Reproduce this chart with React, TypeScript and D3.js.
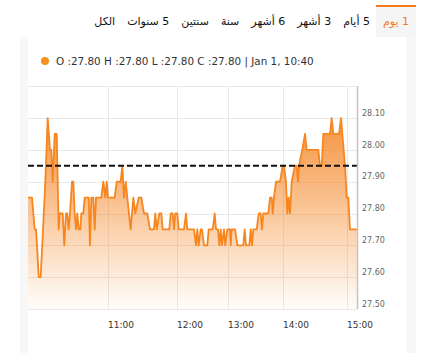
import React, { useEffect, useRef } from 'react';
import * as d3 from 'd3';

const tabLabels = ['1 يوم', '5 أيام', '3 أشهر', '6 أشهر', 'سنة', 'سنتين', '5 سنوات', 'الكل'];
const activeTab = 0;

// ordinal step positions (trading-step index) and prices
const steps = [
  0, 4, 6.7, 8, 9, 10.7, 12.7, 17.3, 19.7, 22, 23.3, 24.7, 26.7, 28.7, 30.7, 31.7, 34.7, 36.3, 38, 39.3,
  40.7, 42, 44, 45.3, 46.7, 48, 49.3, 50.7, 52.3, 53.3, 55.3, 56.7, 60.7, 62, 63.3, 65.3, 66.7, 68, 73.3, 75.3,
  77.3, 78.7, 80, 86.7, 88.7, 92.7, 94.3, 96, 97.7, 99.3, 102.7, 105.3, 107.3, 110.7, 113.3, 116, 119.3, 122, 126, 127.3,
  128.7, 131.3, 133.3, 134.7, 141.3, 142.7, 144.7, 146, 147.3, 149.3, 150.7, 156, 158, 159.3, 166, 168, 169.3, 170.7, 172.7, 174,
  176, 179.3, 180.7, 184.7, 186.7, 188, 190, 191.3, 192.7, 194, 196, 197.3, 199.3, 202, 202.7, 203.7, 207, 209.3, 215.3, 216.7,
  218, 221.3, 222.7, 224, 225.3, 228.7, 230.7, 232.7, 234, 235.3, 240.3, 242, 243.7, 244.7, 246, 248, 252, 254.7, 256, 258,
  259.3, 260.7, 262, 263.7, 267, 268.7, 270, 271, 274.3, 277, 278.7, 290.3, 292, 293.7, 295.3, 302, 303.7, 305.3, 311, 313,
  314.3, 317, 318.7, 320.3, 322, 329,
];
const prices = [
  27.85, 27.85, 27.75, 27.75, 27.70, 27.60, 27.60, 27.90, 28.10, 28.00, 28.00, 27.90, 28.05, 28.05, 27.75, 27.80, 27.80, 27.70, 27.80, 27.80,
  27.75, 27.80, 27.90, 27.90, 27.80, 27.75, 27.80, 27.75, 27.75, 27.80, 27.80, 27.85, 27.85, 27.70, 27.85, 27.85, 27.75, 27.85, 27.85, 27.90,
  27.85, 27.90, 27.85, 27.85, 27.90, 27.90, 27.95, 27.85, 27.90, 27.85, 27.75, 27.85, 27.80, 27.85, 27.85, 27.80, 27.80, 27.75, 27.75, 27.80,
  27.75, 27.80, 27.80, 27.75, 27.75, 27.80, 27.80, 27.75, 27.80, 27.80, 27.75, 27.75, 27.80, 27.75, 27.75, 27.70, 27.75, 27.70, 27.75, 27.75,
  27.70, 27.70, 27.75, 27.75, 27.80, 27.75, 27.75, 27.70, 27.75, 27.70, 27.75, 27.70, 27.75, 27.75, 27.70, 27.75, 27.75, 27.70, 27.70, 27.75,
  27.70, 27.70, 27.75, 27.70, 27.75, 27.75, 27.80, 27.80, 27.75, 27.80, 27.80, 27.85, 27.85, 27.80, 27.85, 27.90, 27.90, 27.95, 27.95, 27.90,
  27.80, 27.85, 27.80, 27.90, 27.95, 27.95, 27.90, 27.95, 28.00, 28.05, 28.00, 28.00, 27.95, 27.95, 28.05, 28.05, 28.10, 28.05, 28.05, 28.10,
  28.05, 27.95, 27.85, 27.85, 27.75, 27.75,
];
const prevClose = 27.95;
const yTickValues = [27.5, 27.6, 27.7, 27.8, 27.9, 28.0, 28.1];
const yTopValue = 28.2;
const xTickSteps = [80, 149, 200, 255, 319];
const xTickLabels = ['11:00', '12:00', '13:00', '14:00', '15:00'];
const legendText = 'O :27.80 H :27.80 L :27.80 C :27.80 | Jan 1, 10:40';

export default function App() {
  const ref = useRef<SVGSVGElement>(null);

  useEffect(() => {
    const W = 427;
    const H = 353;
    const svg = d3.select(ref.current);
    svg.selectAll('*').remove();

    svg.append('rect').attr('x', 0).attr('y', 0).attr('width', W).attr('height', H).attr('fill', '#ffffff');

    // container + card
    const cTop = 37;
    svg.append('rect').attr('x', 20).attr('y', cTop).attr('width', 396).attr('height', H - cTop).attr('fill', '#f7f7f7');
    svg.append('rect').attr('x', 28).attr('y', cTop).attr('width', 378).attr('height', H - cTop).attr('fill', '#ffffff');

    // tabs (RTL, from right edge)
    const tabG = svg.append('g');
    const tabRight = 416;
    const pad = 6;
    let cursor = tabRight;
    tabLabels.forEach((lab, i) => {
      const t = tabG
        .append('text')
        .attr('y', 25)
        .attr('text-anchor', 'middle')
        .style('direction', 'rtl')
        .attr('font-family', 'DejaVu Sans, sans-serif')
        .attr('font-size', 11)
        .attr('fill', i === activeTab ? '#f47920' : '#111')
        .text(lab);
      const w = (t.node() as SVGTextElement).getComputedTextLength();
      const tw = w + pad * 2 + (i === activeTab ? 2 : 0);
      const left = cursor - tw;
      t.attr('x', left + tw / 2);
      if (i === activeTab) {
        tabG.insert('rect', 'text').attr('x', left).attr('y', 6).attr('width', tw).attr('height', cTop - 6).attr('fill', '#f5f5f5');
        tabG.append('rect').attr('x', left).attr('y', 5).attr('width', tw).attr('height', 2).attr('fill', '#f47920');
      }
      cursor = left;
    });

    // legend
    svg.append('circle').attr('cx', 45).attr('cy', 61).attr('r', 4).attr('fill', '#f7901e');
    svg
      .append('text')
      .attr('x', 56)
      .attr('y', 64.6)
      .attr('font-family', 'DejaVu Sans, sans-serif')
      .attr('font-size', 10.4)
      .attr('fill', '#333')
      .text(legendText);

    // scales
    const x0 = 28;
    const x1 = 357;
    const yBottom = 309;
    const x = d3.scaleLinear().domain([0, d3.max(steps) as number]).range([x0, x1]);
    const y = d3.scaleLinear().domain([27.5, yTopValue]).range([yBottom, 86.2]);

    // gridlines
    const grid = svg.append('g');
    [...yTickValues, yTopValue].forEach((v) => {
      grid
        .append('line')
        .attr('x1', x0)
        .attr('x2', x1)
        .attr('y1', Math.round(y(v)) + 0.5)
        .attr('y2', Math.round(y(v)) + 0.5)
        .attr('stroke', '#e8e8e8')
        .attr('stroke-width', 1);
    });
    xTickSteps.forEach((s) => {
      grid
        .append('line')
        .attr('x1', Math.round(x(s)) + 0.5)
        .attr('x2', Math.round(x(s)) + 0.5)
        .attr('y1', y(yTopValue))
        .attr('y2', yBottom)
        .attr('stroke', '#e8e8e8')
        .attr('stroke-width', 1);
    });

    // gradient
    const defs = svg.append('defs');
    const grad = defs
      .append('linearGradient')
      .attr('id', 'areaGrad')
      .attr('gradientUnits', 'userSpaceOnUse')
      .attr('x1', 0)
      .attr('x2', 0)
      .attr('y1', y(28.1))
      .attr('y2', yBottom);
    grad.append('stop').attr('offset', 0).attr('stop-color', 'rgb(245,135,40)').attr('stop-opacity', 0.9);
    grad.append('stop').attr('offset', 1).attr('stop-color', 'rgb(245,135,40)').attr('stop-opacity', 0.02);

    const data = steps.map((s, i) => ({ s, v: prices[i] }));
    const area = d3
      .area<{ s: number; v: number }>()
      .x((d) => x(d.s))
      .y0(yBottom)
      .y1((d) => y(d.v));
    const line = d3
      .line<{ s: number; v: number }>()
      .x((d) => x(d.s))
      .y((d) => y(d.v));

    svg.append('path').attr('d', area(data)).attr('fill', 'url(#areaGrad)');
    svg
      .append('path')
      .attr('d', line(data))
      .attr('fill', 'none')
      .attr('stroke', '#f7861e')
      .attr('stroke-width', 1.8)
      .attr('stroke-linejoin', 'round');

    // previous close dashed line
    svg
      .append('line')
      .attr('x1', x0)
      .attr('x2', x1)
      .attr('y1', y(prevClose))
      .attr('y2', y(prevClose))
      .attr('stroke', '#111')
      .attr('stroke-width', 2)
      .attr('stroke-dasharray', '6,3');

    // right axis line
    svg
      .append('line')
      .attr('x1', x1 + 0.5)
      .attr('x2', x1 + 0.5)
      .attr('y1', y(yTopValue))
      .attr('y2', yBottom)
      .attr('stroke', '#c4c4c4')
      .attr('stroke-width', 1.5);

    // y labels
    yTickValues.forEach((v) => {
      svg
        .append('text')
        .attr('x', 362)
        .attr('y', y(v) - 2.3)
        .attr('font-family', 'DejaVu Sans, sans-serif')
        .attr('font-size', 8)
        .attr('fill', '#666')
        .text(d3.format('.2f')(v));
    });

    // x labels
    xTickSteps.forEach((s, i) => {
      svg
        .append('text')
        .attr('x', Math.round(x(s)))
        .attr('y', 327.5)
        .attr('font-family', 'DejaVu Sans, sans-serif')
        .attr('font-size', 9)
        .attr('fill', '#333')
        .text(xTickLabels[i]);
    });
  }, []);

  return (
    <svg
      ref={ref}
      width={427}
      height={353}
      style={{ position: 'absolute', left: 0, top: 0, display: 'block' }}
    />
  );
}
